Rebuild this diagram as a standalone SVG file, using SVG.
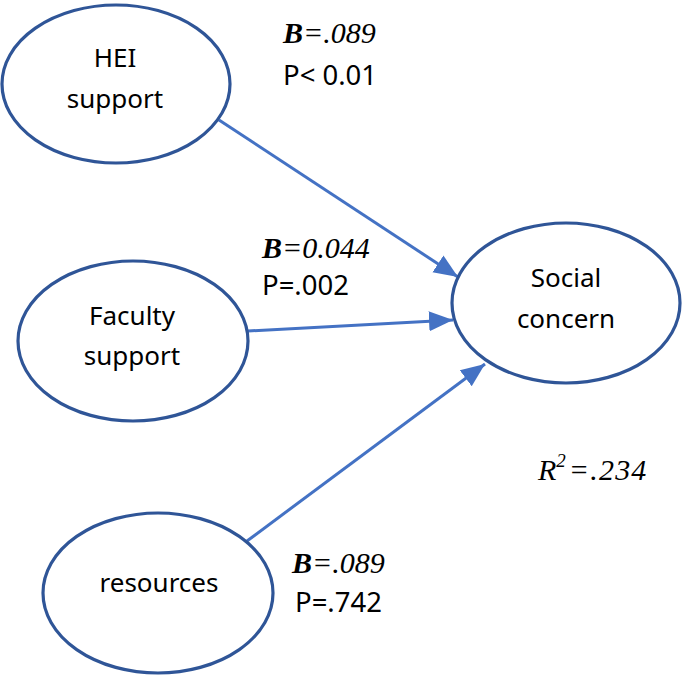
<svg xmlns="http://www.w3.org/2000/svg" width="685" height="676" viewBox="0 0 685 676">
<style>
.node ellipse{fill:#fff;stroke:#2F5597;stroke-width:3.2}
.lbl{font-family:"Noto Sans","Open Sans",sans-serif;font-size:26px;fill:#000;text-anchor:middle}
.stat{font-family:"Noto Sans","Open Sans",sans-serif;font-size:27.5px;fill:#000}
.coef{font-family:"Liberation Serif","Times New Roman",serif;font-size:30px;font-style:italic;fill:#000}
.coef .b{font-weight:bold}
.edge{stroke:#4472C4;stroke-width:3;fill:none}
</style>
<defs>
<marker id="ah" markerUnits="userSpaceOnUse" markerWidth="26" markerHeight="22" refX="24" refY="10" orient="auto" viewBox="0 0 26 20">
<path d="M0,0 L24,10 L0,20 Z" fill="#4472C4"/>
</marker>
</defs>
<rect width="685" height="676" fill="#fff"/>
<g id="connectors">
<line class="edge" x1="219" y1="120" x2="458" y2="277" marker-end="url(#ah)"/>
<line class="edge" x1="248" y1="331" x2="453" y2="320" marker-end="url(#ah)"/>
<line class="edge" x1="247" y1="541" x2="485" y2="364" marker-end="url(#ah)"/>
</g>
<g id="hei" class="node">
<ellipse cx="116" cy="84" rx="114" ry="79"/>
<text class="lbl" x="115" y="67">HEI</text>
<text class="lbl" x="115" y="108">support</text>
</g>
<g id="faculty" class="node">
<ellipse cx="133" cy="341" rx="115" ry="80"/>
<text class="lbl" x="132" y="325">Faculty</text>
<text class="lbl" x="132" y="365">support</text>
</g>
<g id="resources" class="node">
<ellipse cx="158" cy="593" rx="115" ry="80"/>
<text class="lbl" x="159" y="592">resources</text>
</g>
<g id="social" class="node">
<ellipse cx="566" cy="303" rx="114" ry="80"/>
<text class="lbl" x="566" y="287">Social</text>
<text class="lbl" x="566" y="328">concern</text>
</g>
<g id="labels">
<text class="coef" x="283" y="43"><tspan class="b">B</tspan>=.089</text>
<text class="stat" x="283" y="85">P&lt; 0.01</text>
<text class="coef" x="262" y="258"><tspan class="b">B</tspan>=0.044</text>
<text class="stat" x="262" y="295">P=.002</text>
<text class="coef" x="292" y="573"><tspan class="b">B</tspan>=.089</text>
<text class="stat" x="295" y="612">P=.742</text>
<text class="coef" x="538" y="480" font-size="31">R<tspan font-size="19" dy="-13">2</tspan><tspan dy="13" dx="3" letter-spacing="1.2">=.234</tspan></text>
</g>
</svg>
